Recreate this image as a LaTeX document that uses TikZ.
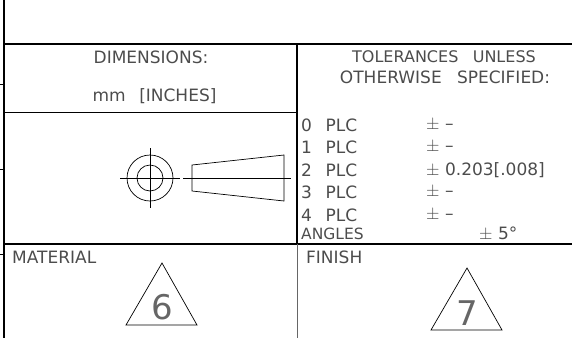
\documentclass[tikz,border=0pt]{standalone}
\usepackage{fontspec}
\setmainfont{DejaVu Sans}
\usetikzlibrary{positioning}
\tikzset{
    heavy/.style={line width=1.6pt},
    fine/.style={line width=0.7pt},
    txt/.style={inner sep=0pt, font=\fontsize{17}{17}\selectfont, text=black!70},
    row/.style={txt, anchor=west},
    small/.style={row, font=\fontsize{15.5}{15.5}\selectfont},
    digit/.style={txt, font=\fontsize{34}{34}\selectfont, text=black!60},
}

\begin{document}
\begin{tikzpicture}[x=1pt, y=-1pt]
        \useasboundingbox (0,0) rectangle (572,338);
        % frame
        \draw[heavy] (4,0) -- (4,338);
        \draw[heavy] (4,44) -- (572,44);
        \draw[heavy] (4,244) -- (572,244);
        \draw[heavy] (297,44) -- (297,244);
        \draw[fine, black!60] (297,244) -- (297,338);
        \draw[fine] (4,112) -- (297,112);
        \draw[fine] (0,84) -- (4,84);
        \draw[fine] (0,169) -- (4,169);
        \draw[fine] (0,254) -- (4,254);
        % left cell
        \node[txt] (dim) at (151,57) {DIMENSIONS:};
        \node[txt] (unit) at (154.5,96) {mm\hspace{0.8em}[INCHES]};
        \node[row] (material) at (12,257) {MATERIAL};
        % right cell
        \node[txt, font=\fontsize{16}{16}\selectfont] (tol1) at (444,57) {TOLERANCES\hspace{0.9em}UNLESS};
        \node[txt] (tol2) at (445,77) {OTHERWISE\hspace{0.9em}SPECIFIED:};
        \node[row] (p0) at (301,125) {0\hspace{0.8em}PLC};
        \node[row] (p1) at (301,147) {1\hspace{0.8em}PLC};
        \node[row] (p2) at (301,170) {2\hspace{0.8em}PLC};
        \node[row] (p3) at (301,192) {3\hspace{0.8em}PLC};
        \node[row] (p4) at (301,215) {4\hspace{0.8em}PLC};
        \node[small] (ang) at (301,234) {ANGLES};
        \node[row] (v0) at (426,125) {$\pm$ \textendash};
        \node[row] (v1) at (426,147) {$\pm$ \textendash};
        \node[row] (v2) at (426,170) {$\pm$ 0.203[.008]};
        \node[row] (v3) at (426,192) {$\pm$ \textendash};
        \node[row] (v4) at (426,215) {$\pm$ \textendash};
        \node[row] (v5) at (479,234) {$\pm$ 5\textdegree};
        \node[row] (finish) at (306,257) {FINISH};
        % symbol
        \draw[fine] (150,148) -- (150,208);
        \draw[fine] (120,178) -- (180,178);
        \draw[fine] (150,178) circle (23);
        \draw[fine] (150,178) circle (13);
        \draw[fine] (192,165) -- (284,155) -- (284,201) -- (192,191) -- cycle;
        \draw[fine] (183,178) -- (291,178);
        % triangles
        \node[digit] (six) at (162,307) {6};
        \draw[fine] (162,263) -- (197,325) -- (126,325) -- cycle;
        \node[digit] (seven) at (467,313) {7};
        \draw[fine] (467,268) -- (502,330) -- (431,330) -- cycle;
\end{tikzpicture}
\end{document}
